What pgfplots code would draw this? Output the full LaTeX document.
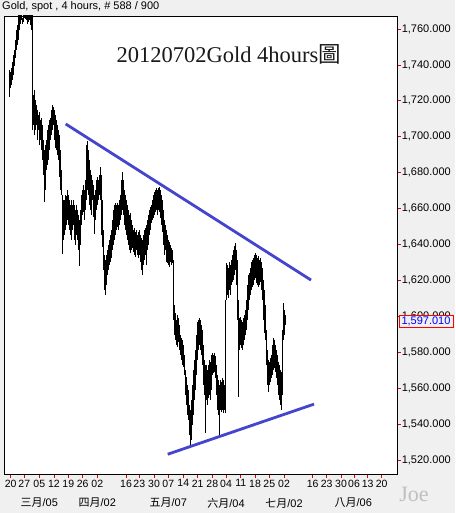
\documentclass[border=0pt]{standalone}
\usepackage{fontspec}
\setmainfont{Liberation Sans}
\newfontfamily\seriffont{Liberation Serif}
\newfontfamily\cjk{Noto Sans CJK TC}
\usepackage{pgfplots}
\pgfplotsset{compat=1.18}
\usepackage{pgfplotstable}
\definecolor{bg}{RGB}{240,240,240}
\definecolor{trend}{RGB}{68,68,204}
\definecolor{tickred}{RGB}{225,0,0}

\pgfplotstableread{
x hi lo
9 1737.2 1722.2
10 1736.1 1727.2
11 1738.3 1728.9
12 1741.7 1731.6
13 1745.6 1734.4
14 1748.4 1739.4
15 1753.9 1743.9
16 1759.5 1748.4
17 1762.3 1751.1
18 1770 1753.9
19 1770 1759.5
20 1770 1762.8
21 1770 1765.1
22 1766.2 1762.8
23 1770 1764.0
24 1770 1766.2
25 1770 1765.6
26 1770 1765.1
27 1770 1762.8
28 1770 1764.0
29 1770 1765.1
30 1770 1762.3
31 1770 1759.5
32 1770 1703.8
33 1723.3 1706.6
34 1726.1 1701.0
35 1720.5 1703.8
36 1717.7 1706.6
37 1714.9 1698.2
38 1712.1 1703.8
39 1713.8 1695.4
40 1709.4 1698.2
41 1710.5 1692.7
42 1706.6 1687.1
43 1698.2 1678.7
44 1692.7 1663.7
45 1695.4 1670.4
46 1698.2 1681.5
47 1703.8 1684.3
48 1706.6 1687.1
49 1709.4 1692.7
50 1710.5 1698.2
51 1714.9 1701.0
52 1717.7 1703.8
53 1716.6 1706.6
54 1714.9 1698.2
55 1712.1 1693.8
56 1709.4 1692.7
57 1706.6 1689.9
58 1703.8 1687.1
59 1701.0 1677.6
60 1692.7 1670.4
61 1681.5 1667.6
62 1667.6 1634.7
63 1664.8 1642.5
64 1664.8 1645.3
65 1667.6 1648.1
66 1667.0 1650.9
67 1670.4 1653.7
68 1667.6 1650.9
69 1664.8 1648.1
70 1662.0 1645.3
71 1664.8 1642.5
72 1662.0 1648.1
73 1664.8 1650.9
74 1662.0 1642.5
75 1659.2 1639.8
76 1662.0 1645.3
77 1659.2 1642.5
78 1656.5 1637.0
79 1653.7 1628.1
80 1659.2 1639.8
81 1667.6 1650.9
82 1670.4 1656.5
83 1673.2 1658.1
84 1670.4 1653.7
85 1675.9 1659.2
86 1695.4 1664.8
87 1697.7 1670.4
88 1692.7 1667.6
89 1687.1 1662.0
90 1681.5 1659.2
91 1678.7 1656.5
92 1675.9 1664.8
93 1673.2 1655.4
94 1667.6 1645.9
95 1670.4 1653.7
96 1675.9 1659.2
97 1677.6 1662.0
98 1675.9 1664.8
99 1678.7 1667.6
100 1683.2 1664.8
101 1678.7 1645.3
102 1664.8 1638.7
103 1648.1 1625.8
104 1634.2 1614.7
105 1631.4 1611.9
106 1634.2 1617.5
107 1637.0 1623.0
108 1639.8 1625.8
109 1642.5 1628.6
110 1645.3 1630.3
111 1648.1 1632.5
112 1653.7 1637.0
113 1659.2 1639.8
114 1662.0 1642.5
115 1663.1 1645.3
116 1662.0 1648.1
117 1663.1 1649.8
118 1662.0 1648.1
119 1664.8 1650.9
120 1667.6 1653.7
121 1675.9 1656.5
122 1680.4 1659.2
123 1675.9 1656.5
124 1670.4 1650.9
125 1667.6 1648.1
126 1664.8 1645.3
127 1662.0 1642.5
128 1659.2 1639.8
129 1656.5 1637.0
130 1657.6 1635.3
131 1653.7 1637.0
132 1650.9 1638.1
133 1648.1 1635.9
134 1649.2 1634.2
135 1647.0 1633.1
136 1648.1 1637.0
137 1645.3 1634.2
138 1647.0 1632.5
139 1648.1 1634.2
140 1645.3 1630.3
141 1643.6 1625.8
142 1642.5 1623.0
143 1645.3 1628.6
144 1648.1 1631.4
145 1649.2 1634.2
146 1650.9 1628.6
147 1653.7 1637.0
148 1656.5 1639.8
149 1659.2 1645.3
150 1660.9 1648.1
151 1662.0 1652.0
152 1664.8 1653.7
153 1667.6 1654.8
154 1669.3 1656.5
155 1670.4 1658.1
156 1671.5 1659.2
157 1670.4 1656.5
158 1671.5 1659.2
159 1672.0 1658.1
160 1670.4 1654.8
161 1667.6 1650.9
162 1664.8 1647.0
163 1659.2 1639.8
164 1653.7 1634.2
165 1650.9 1637.0
166 1648.1 1630.3
167 1645.3 1629.7
168 1642.5 1628.6
169 1641.4 1627.5
170 1639.8 1630.3
171 1638.1 1628.6
172 1637.0 1629.7
173 1631.4 1598.0
174 1606.3 1589.6
175 1601.9 1586.8
176 1598.0 1584.0
177 1600.8 1582.9
178 1599.1 1585.7
179 1595.2 1581.3
180 1589.6 1578.5
181 1588.0 1575.7
182 1586.8 1572.9
183 1584.0 1571.8
184 1578.5 1567.3
185 1570.1 1556.2
186 1566.2 1550.6
187 1561.8 1545.0
188 1559.0 1542.3
189 1550.6 1533.9
190 1547.8 1528.3
191 1553.4 1531.1
192 1561.8 1539.5
193 1570.1 1545.0
194 1575.7 1553.4
195 1581.3 1559.0
196 1589.6 1567.3
197 1596.9 1575.7
198 1598.0 1581.3
199 1599.1 1584.0
200 1598.0 1581.3
201 1595.2 1578.5
202 1592.4 1572.9
203 1584.0 1561.8
204 1575.7 1556.2
205 1572.9 1535.0
206 1572.9 1553.4
207 1570.1 1550.6
208 1572.9 1554.5
209 1575.7 1556.2
210 1574.6 1553.4
211 1578.5 1559.0
212 1579.6 1567.3
213 1578.5 1568.4
214 1579.6 1569.0
215 1577.9 1565.7
216 1572.9 1556.2
217 1567.3 1547.8
218 1564.5 1545.0
219 1561.8 1533.9
220 1564.5 1547.8
221 1563.4 1546.7
222 1565.7 1547.8
223 1564.5 1546.2
224 1561.8 1547.8
225 1609.1 1546.2
226 1629.7 1609.1
227 1628.6 1611.9
228 1626.9 1610.2
229 1630.3 1614.7
230 1628.6 1611.9
231 1631.4 1617.5
232 1634.2 1619.1
233 1637.0 1620.3
234 1639.2 1623.0
235 1640.9 1625.8
236 1637.0 1617.5
237 1631.4 1598.0
238 1609.1 1555.1
239 1599.1 1581.3
240 1599.6 1584.0
241 1598.0 1582.4
242 1596.9 1581.3
243 1599.1 1584.0
244 1600.8 1586.8
245 1603.5 1589.6
246 1609.1 1592.4
247 1617.5 1598.0
248 1623.0 1603.5
249 1624.1 1609.1
250 1626.9 1611.9
251 1630.3 1614.7
252 1631.4 1616.3
253 1632.5 1617.5
254 1634.2 1620.3
255 1635.3 1621.4
256 1634.2 1618.6
257 1632.5 1617.5
258 1633.6 1616.3
259 1631.4 1617.5
260 1632.5 1619.1
261 1630.3 1614.7
262 1626.9 1609.1
263 1620.3 1598.0
264 1614.7 1590.7
265 1606.3 1586.8
266 1592.4 1572.9
267 1581.3 1561.8
268 1575.7 1557.9
269 1574.6 1561.8
270 1576.8 1563.4
271 1578.5 1565.7
272 1584.0 1567.3
273 1588.0 1570.1
274 1586.8 1571.2
275 1584.0 1569.0
276 1581.3 1565.7
277 1578.5 1561.8
278 1574.6 1556.2
279 1572.9 1553.4
280 1570.1 1550.6
281 1569.0 1547.8
282 1592.4 1556.2
283 1607.4 1586.8
284 1603.5 1589.6
285 1600.8 1595.2
}\gold

\begin{document}
\begin{tikzpicture}[x=1pt,y=1pt]
\fill[bg] (0,0) rectangle (455,513);
\fill[white] (4,39) rectangle (397,497);
\begin{axis}[
  at={(4pt,39pt)}, anchor=south west,
  width=393pt, height=458pt, scale only axis,
  xmin=4, xmax=397, ymin=1512.2, ymax=1767.24,
  axis line style={black, line width=0.9pt},
  axis on top,
  scaled y ticks=false,
  ytick={1520,1540,...,1760},
  ytick pos=right, yticklabel pos=right,
  xtick pos=bottom,
  xtick={10.7,24.3,39.3,54,68.3,82.7,97.3,126,139.3,154,168.3,183.3,197.7,212.3,226,240.7,255,269.3,284,312.7,326.7,341,354,367.7,381.7},
  xticklabels={20,27,05,12,19,26,02,16,23,30,07,14,21,28,04,11,18,25,02,16,23,30,06,13,20},
  tick align=outside,
  major tick length=4pt,
  tick style={tickred, line width=0.8pt},
  yticklabel style={font=\fontsize{11}{13}\selectfont, inner xsep=0.6pt,
     /pgf/number format/.cd, fixed, fixed zerofill, precision=3, 1000 sep={,}, assume math mode=true},
  xticklabel style={font=\fontsize{10.5}{12}\selectfont, inner sep=1.5pt,
     /pgf/number format/assume math mode=true},
]
% high-low bars: black column from each high downwards, then white from each low downwards
\addplot[ycomb, black, line width=0.95pt, mark=none] table[x=x, y=hi] {\gold};
\addplot[ycomb, white, line width=1pt, mark=none] table[x=x, y=lo] {\gold};
\addplot[trend, line width=2.8pt] coordinates {(65.7,1707.1) (311,1620.2)};
\addplot[trend, line width=2.8pt] coordinates {(167.7,1523.2) (314,1551.1)};
\end{axis}
\node[anchor=west, font=\fontsize{11}{13}\selectfont, inner sep=0pt] at (2,506) {Gold, spot , 4 hours, \# 588 / 900};
\node[font=\seriffont\fontsize{22.5}{26}\selectfont, text=black!90] at (228.7,459) {20120702Gold 4hours{\cjk 圖}};
\node[font=\fontsize{11}{13}\selectfont] at (39.3,10) {{\cjk 三月}/05};
\node[font=\fontsize{11}{13}\selectfont] at (97.3,10) {{\cjk 四月}/02};
\node[font=\fontsize{11}{13}\selectfont] at (168.3,10) {{\cjk 五月}/07};
\node[font=\fontsize{11}{13}\selectfont] at (226,10) {{\cjk 六月}/04};
\node[font=\fontsize{11}{13}\selectfont] at (284,10) {{\cjk 七月}/02};
\node[font=\fontsize{11}{13}\selectfont] at (353.3,10) {{\cjk 八月}/06};
\node[font=\seriffont\fontsize{22}{24}\selectfont, text=black!25] at (414,19) {Joe};
\node[draw=red, fill=bg, text=blue, line width=0.8pt, minimum width=54pt, minimum height=12pt, inner sep=0pt, font=\fontsize{11}{13}\selectfont] at (426,191.3) {1,597.010};
\pgfresetboundingbox
\path[use as bounding box] (0,0) rectangle (455,513);
\end{tikzpicture}
\end{document}
